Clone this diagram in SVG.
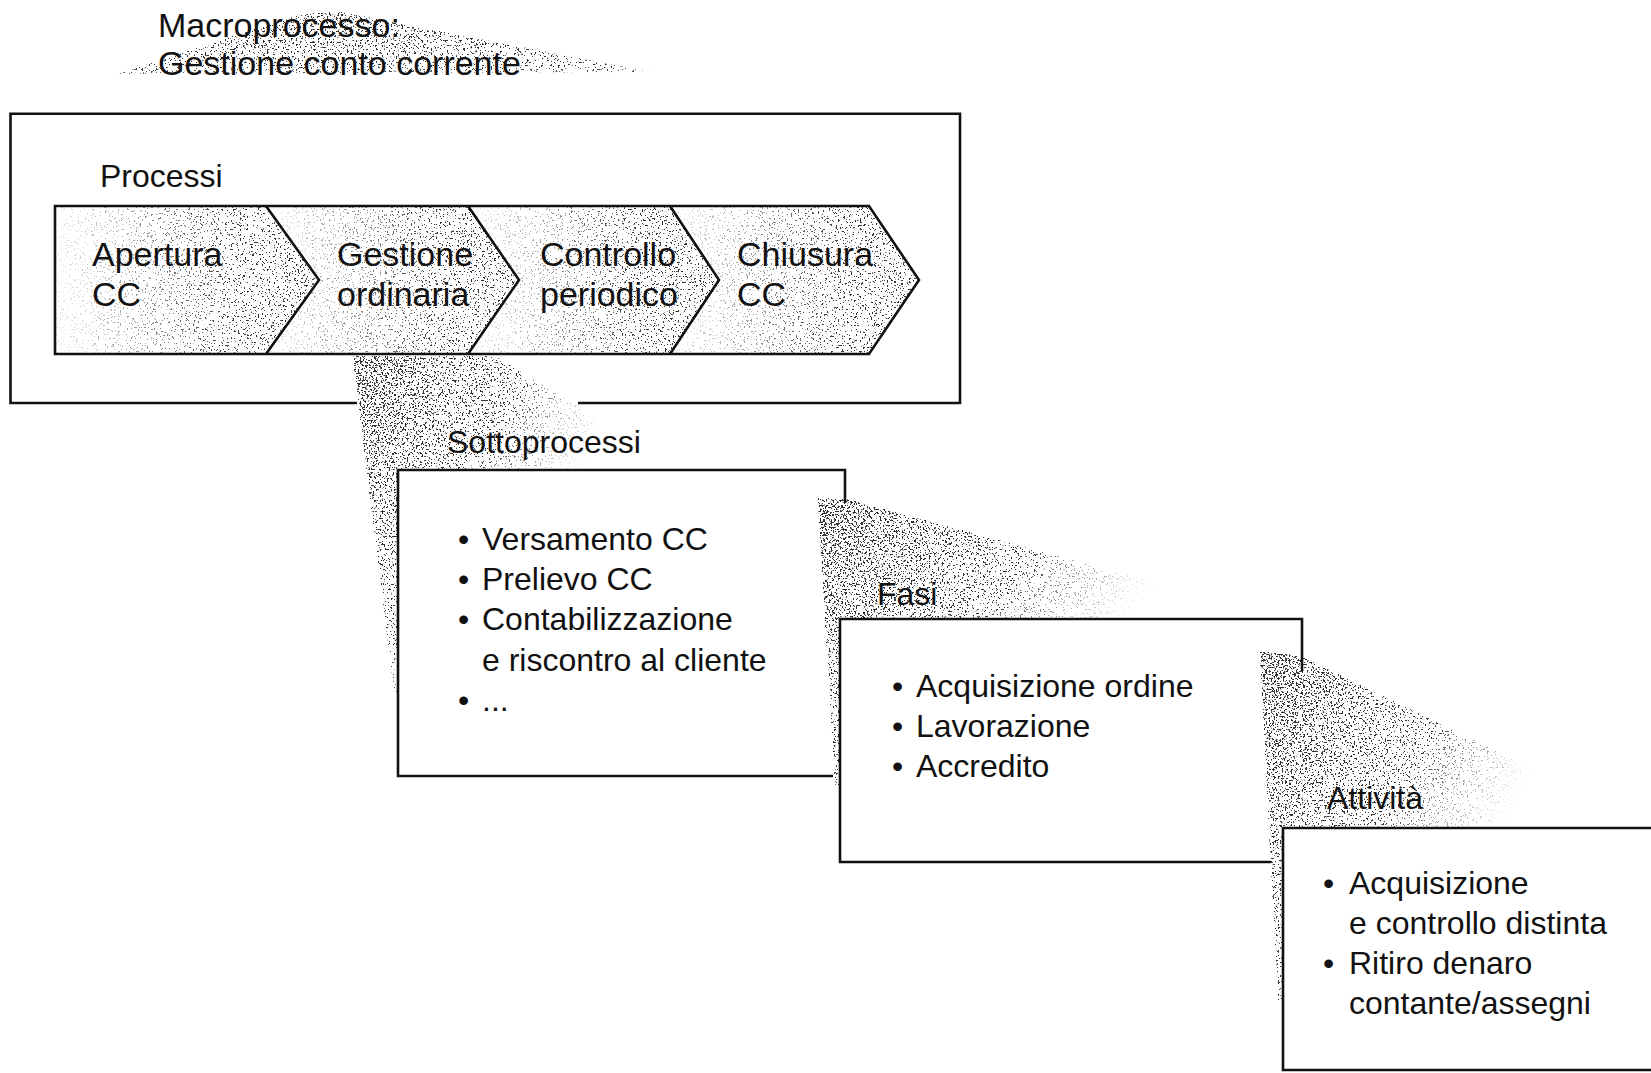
<svg xmlns="http://www.w3.org/2000/svg" width="1651" height="1073" viewBox="0 0 1651 1073">
<style>
text{font-family:"Liberation Sans",Arial,sans-serif;fill:#111}
.h{font-size:34px}
.lb{font-size:32px}
.b{font-size:32px}
.edge{fill:none;stroke:#111;stroke-width:2.6;stroke-linejoin:miter}
.stip{filter:url(#stip)}
</style>
<defs>
<filter id="stip" x="0" y="0" width="1" height="1" color-interpolation-filters="sRGB">
<feTurbulence type="fractalNoise" baseFrequency="0.55" numOctaves="2" seed="7" result="noise"/>
<feColorMatrix in="noise" type="matrix" values="0 0 0 0 0  0 0 0 0 0  0 0 0 0 0  3 0 0 0 -1" result="na"/>
<feComposite in="na" in2="SourceAlpha" operator="arithmetic" k1="0" k2="1" k3="1" k4="-1" result="d"/>
<feComponentTransfer in="d" result="m"><feFuncA type="linear" slope="10" intercept="0"/></feComponentTransfer>
<feFlood flood-color="#333"/>
<feComposite in2="m" operator="in"/>
</filter>
<linearGradient id="gChev" x1="0" y1="0" x2="1" y2="0">
<stop offset="0" stop-color="#000" stop-opacity="0.01"/>
<stop offset="0.7" stop-color="#000" stop-opacity="0.1"/>
<stop offset="1" stop-color="#000" stop-opacity="0.14"/>
</linearGradient>
<linearGradient id="gCone" x1="0" y1="0" x2="1" y2="0.5">
<stop offset="0" stop-color="#000" stop-opacity="0.4"/>
<stop offset="0.25" stop-color="#000" stop-opacity="0.22"/>
<stop offset="0.5" stop-color="#000" stop-opacity="0.07"/>
<stop offset="0.7" stop-color="#000" stop-opacity="0"/>
</linearGradient>
<linearGradient id="gHead" x1="0" y1="0" x2="0" y2="1">
<stop offset="0" stop-color="#000" stop-opacity="0.25"/>
<stop offset="1" stop-color="#000" stop-opacity="0.08"/>
</linearGradient>
</defs>

<g id="connectors">
<polygon class="stip" fill="url(#gHead)" points="118,74 300,14 340,12 650,72"/>
<polygon class="stip" fill="url(#gCone)" points="353,356 495,356 680,470 398,470 398,692 394,692"/>
<polygon class="stip" fill="url(#gCone)" points="818,498 850,500 1290,619 839,619 839,785 835,785"/>
<polygon class="stip" fill="url(#gCone)" points="1260,651 1300,656 1655,828 1283,828 1283,1000 1278,1000"/>
</g>

<g id="macroprocesso">
<text class="h" x="158" y="37">Macroprocesso:</text>
<text class="h" x="158" y="75">Gestione conto corrente</text>
<path class="edge" stroke-width="3" d="M357,403 H10.5 V113.7 H960 V403 H578"/>
<text class="lb" x="100" y="187">Processi</text>
</g>

<g id="processi">
<g id="p1">
<polygon class="stip" fill="url(#gChev)" points="55,206 266,206 319,280 266,354 55,354"/>
<text class="h" x="92" y="266">Apertura</text>
<text class="h" x="92" y="306">CC</text>
</g>
<g id="p2">
<polygon class="stip" fill="url(#gChev)" points="266,206 468,206 519,280 468,354 266,354 319,280"/>
<text class="h" x="337" y="266">Gestione</text>
<text class="h" x="337" y="306">ordinaria</text>
</g>
<g id="p3">
<polygon class="stip" fill="url(#gChev)" points="468,206 670,206 719,280 670,354 468,354 519,280"/>
<text class="h" x="540" y="266">Controllo</text>
<text class="h" x="540" y="306">periodico</text>
</g>
<g id="p4">
<polygon class="stip" fill="url(#gChev)" points="670,206 869,206 919,280 869,354 670,354 719,280"/>
<text class="h" x="737" y="266">Chiusura</text>
<text class="h" x="737" y="306">CC</text>
</g>
<path class="edge" d="M55,206 H869 L919,280 L869,354 H55 Z M266,206 L319,280 L266,354 M468,206 L519,280 L468,354 M670,206 L719,280 L670,354"/>
</g>

<g id="sottoprocessi">
<text class="lb" x="447" y="453">Sottoprocessi</text>
<path class="edge" d="M845,503 V470 H398 V776 H833"/>
<text class="b" x="458" y="550">•</text>
<text class="b" x="482" y="550">Versamento CC</text>
<text class="b" x="458" y="590">•</text>
<text class="b" x="482" y="590">Prelievo CC</text>
<text class="b" x="458" y="630">•</text>
<text class="b" x="482" y="630">Contabilizzazione</text>
<text class="b" x="482" y="671">e riscontro al cliente</text>
<text class="b" x="458" y="711">•</text>
<text class="b" x="482" y="711">...</text>
</g>

<g id="fasi">
<text class="lb" x="877" y="605">Fasi</text>
<path class="edge" d="M1302,671 V619 H840 V862 H1271"/>
<text class="b" x="892" y="697">•</text>
<text class="b" x="916" y="697">Acquisizione ordine</text>
<text class="b" x="892" y="737">•</text>
<text class="b" x="916" y="737">Lavorazione</text>
<text class="b" x="892" y="777">•</text>
<text class="b" x="916" y="777">Accredito</text>
</g>

<g id="attivita">
<text class="lb" x="1327" y="809">Attività</text>
<path class="edge" d="M1660,828 H1283 V1070 H1660"/>
<text class="b" x="1323" y="894">•</text>
<text class="b" x="1349" y="894">Acquisizione</text>
<text class="b" x="1349" y="934">e controllo distinta</text>
<text class="b" x="1323" y="974">•</text>
<text class="b" x="1349" y="974">Ritiro denaro</text>
<text class="b" x="1349" y="1014">contante/assegni</text>
</g>
</svg>
